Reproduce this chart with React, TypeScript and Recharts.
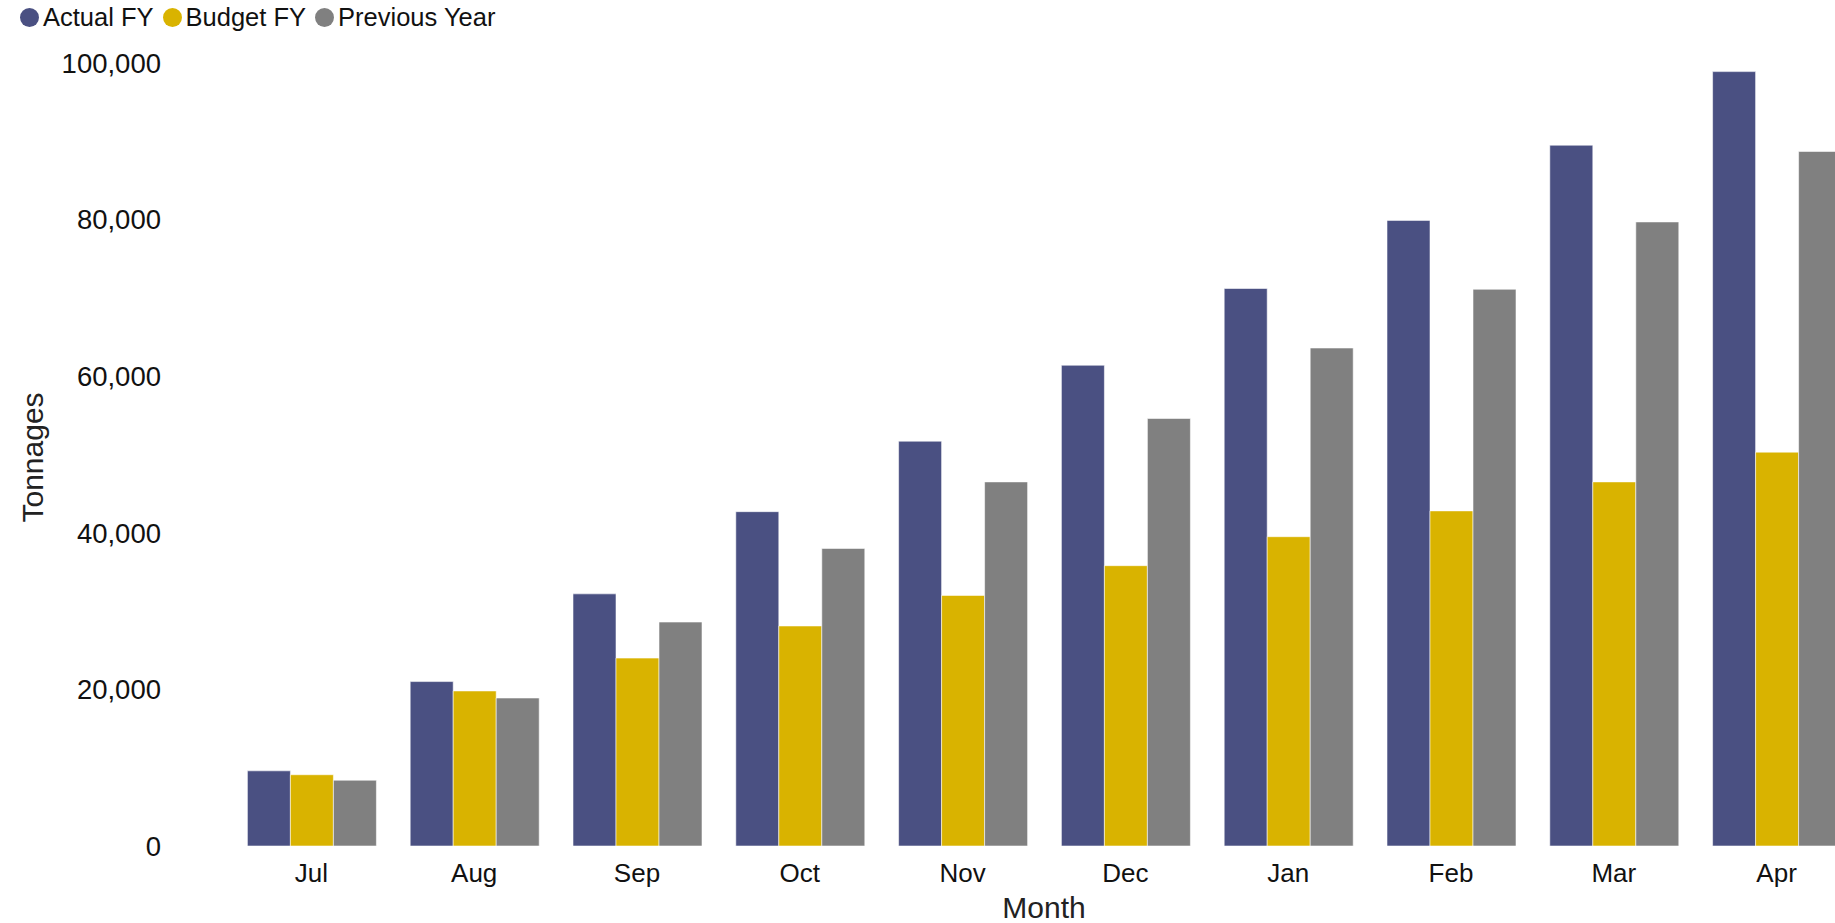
import React from 'react'
import { BarChart, Bar, XAxis, YAxis } from 'recharts'

const months = ['Jul', 'Aug', 'Sep', 'Oct', 'Nov', 'Dec', 'Jan', 'Feb', 'Mar', 'Apr']
const actualFY = [9600, 21000, 32200, 42700, 51700, 61400, 71200, 79900, 89500, 98900]
const budgetFY = [9100, 19800, 24000, 28100, 32000, 35800, 39500, 42800, 46500, 50300]
const previousYear = [8400, 18900, 28600, 38000, 46500, 54600, 63600, 71100, 79700, 88700]
const yTicks = [0, 20000, 40000, 60000, 80000, 100000]

const series = [
  { key: 'actual', name: 'Actual FY', color: '#4a5082' },
  { key: 'budget', name: 'Budget FY', color: '#d9b300' },
  { key: 'previous', name: 'Previous Year', color: '#808080' },
]

const data = months.map((m, i) => ({
  month: m,
  actual: actualFY[i],
  budget: budgetFY[i],
  previous: previousYear[i],
}))

const font = "'Liberation Sans', Arial, sans-serif"

export default function App() {
  return (
    <div style={{
      position: 'fixed', left: 0, top: 0, width: 1835, height: 923,
      overflow: 'hidden', background: '#fff', fontFamily: font,
    }}>
      <div style={{
        position: 'absolute', left: 20, top: 0, height: 34,
        display: 'flex', alignItems: 'center', zIndex: 2,
      }}>
        {series.map(s => (
          <div key={s.key} style={{ display: 'flex', alignItems: 'center', marginRight: 9 }}>
            <span style={{
              width: 19, height: 19, borderRadius: '50%', background: s.color,
              display: 'inline-block', marginRight: 4,
            }} />
            <span style={{ fontSize: 25.5, color: '#111' }}>{s.name}</span>
          </div>
        ))}
      </div>

      <BarChart
        width={1858} height={923} data={data}
        margin={{ top: 63, right: 0, bottom: 0, left: 0 }}
        barCategoryGap={17.4} barGap={0}
      >
        <XAxis
          dataKey="month" height={77} axisLine={false} tickLine={false}
          tickSize={0} tickMargin={18}
          tick={{ fill: '#111', fontSize: 26, fontFamily: font }}
          label={({ viewBox }: any) => (
            <text
              x={viewBox.x + viewBox.width / 2} y={viewBox.y + 72}
              textAnchor="middle" fill="#222" fontSize={30} fontFamily={font}
            >Month</text>
          )}
        />
        <YAxis
          width={230} domain={[0, 100000]} ticks={yTicks} axisLine={false} tickLine={false}
          tickSize={0} tickMargin={69}
          tick={{ fill: '#111', fontSize: 27.5, fontFamily: font }}
          tickFormatter={(v: number) => v.toLocaleString('en-US')}
          label={({ viewBox }: any) => {
            const cx = viewBox.x + 32
            const cy = viewBox.y + viewBox.height / 2 + 3
            return (
              <text
                x={cx} y={cy} transform={`rotate(-90, ${cx}, ${cy})`}
                textAnchor="middle" dominantBaseline="central"
                fill="#222" fontSize={30} fontFamily={font}
              >Tonnages</text>
            )
          }}
        />
        {series.map(s => (
          <Bar
            key={s.key} dataKey={s.key} name={s.name} fill={s.color}
            stroke="rgba(255,255,255,0.55)" strokeWidth={1}
            isAnimationActive={false}
          />
        ))}
      </BarChart>
    </div>
  )
}
